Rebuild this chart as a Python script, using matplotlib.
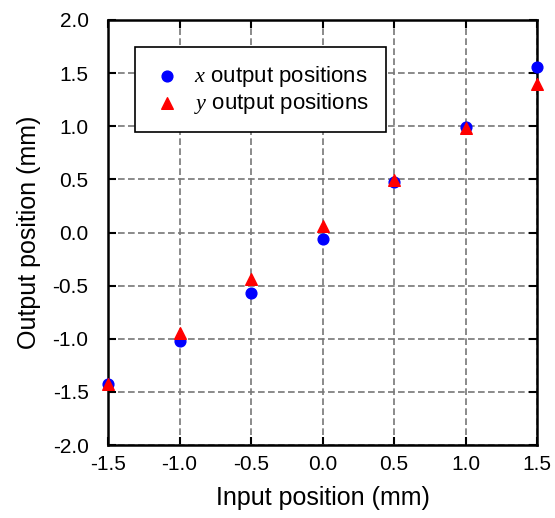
import matplotlib
matplotlib.use("Agg")
import matplotlib.pyplot as plt

inputs = [-1.5, -1.0, -0.5, 0.0, 0.5, 1.0, 1.5]
x_out = [-1.43, -1.02, -0.57, -0.06, 0.48, 0.99, 1.56]
y_out = [-1.43, -0.95, -0.44, 0.06, 0.49, 0.98, 1.40]
xticks = [-1.5, -1.0, -0.5, 0.0, 0.5, 1.0, 1.5]
yticks = [-2.0, -1.5, -1.0, -0.5, 0.0, 0.5, 1.0, 1.5, 2.0]

plt.rcParams['font.family'] = ['Liberation Sans', 'DejaVu Sans']
plt.rcParams['mathtext.fontset'] = 'custom'
plt.rcParams['mathtext.it'] = 'Liberation Serif:italic'
plt.rcParams['mathtext.rm'] = 'Liberation Sans'

fig = plt.figure(figsize=(5.55, 5.18), dpi=100)
ax = fig.add_axes([0.1946, 0.1409, 0.7730, 0.8205])

ax.scatter(inputs, x_out, s=60, c='blue', marker='o', clip_on=False, zorder=3,
           label='$x$ output positions')
ax.scatter(inputs, y_out, s=70, c='red', marker='^', clip_on=False, zorder=4,
           label='$y$ output positions')

ax.set_xlim(-1.5, 1.5)
ax.set_ylim(-2.0, 2.0)
ax.set_xticks(xticks)
ax.set_yticks(yticks)
ax.set_xticklabels([f"{v:.1f}" for v in xticks])
ax.set_yticklabels([f"{v:.1f}" for v in yticks])
ax.tick_params(direction='in', length=6, width=1.5, labelsize=15, top=True, right=True)
ax.tick_params(axis='x', pad=7)
ax.tick_params(axis='y', pad=14)
ax.grid(True, color='#777777', linestyle='--', linewidth=1.2, dashes=(4, 2))
ax.set_axisbelow(True)
for sp in ax.spines.values():
    sp.set_linewidth(1.8)

ax.set_xlabel('Input position (mm)', fontsize=18, labelpad=9)
ax.set_ylabel('Output position (mm)', fontsize=18, labelpad=8)

leg = ax.legend(loc='upper left', bbox_to_anchor=(0.063, 0.936), fontsize=16,
                frameon=True, fancybox=False, edgecolor='black', framealpha=1,
                borderpad=0.75, handletextpad=0.5, labelspacing=0.08,
                handlelength=1.4, borderaxespad=0)
leg.get_frame().set_linewidth(1.2)

fig.savefig('out.png', dpi=100)
